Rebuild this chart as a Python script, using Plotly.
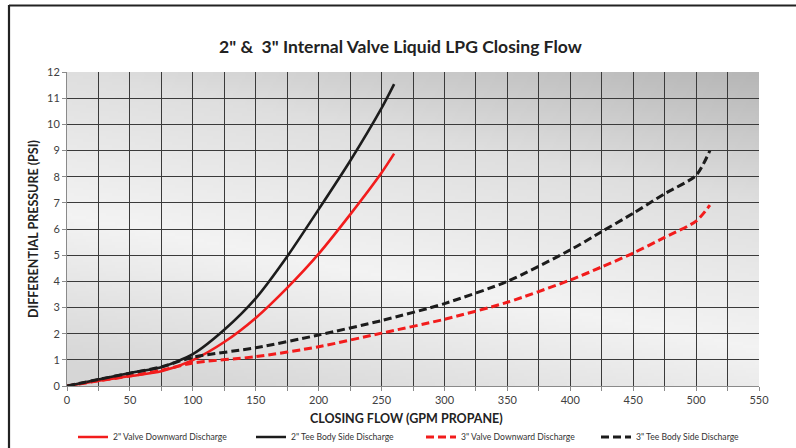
import base64
import struct
import zlib
import plotly.graph_objects as go

# ---------------- data ----------------
flow_2in = [0, 25, 50, 75, 100, 125, 150, 175, 200, 225, 250, 260]
valve_2in = [0, 0.2, 0.38, 0.56, 0.99, 1.68, 2.6, 3.75, 5.05, 6.55, 8.15, 8.88]
tee_2in = [0, 0.25, 0.5, 0.72, 1.22, 2.15, 3.35, 4.95, 6.75, 8.6, 10.62, 11.54]

flow_3in = [0, 25, 50, 75, 100, 150, 200, 250, 300, 350, 400, 425, 450, 475, 500, 511]
valve_3in = [0, 0.2, 0.38, 0.6, 0.88, 1.12, 1.5, 2.02, 2.55, 3.2, 4.05, 4.55, 5.08, 5.68, 6.3, 6.91]
tee_3in = [0, 0.25, 0.49, 0.73, 1.1, 1.46, 1.95, 2.5, 3.15, 4.0, 5.2, 5.9, 6.6, 7.35, 8.05, 9.0]

series_names = ['2" Valve Downward Discharge', '2" Tee Body Side Discharge',
                '3" Valve Downward Discharge', '3" Tee Body Side Discharge']

title_text = '2" &  3" Internal Valve Liquid LPG Closing Flow'
x_title = "CLOSING FLOW (GPM PROPANE)"
y_title = "DIFFERENTIAL PRESSURE (PSI)"

# ---------------- background gradient image ----------------
def make_png(w, h, pix):
    raw = b"".join(b"\x00" + bytes(row) for row in pix)

    def chunk(t, d):
        c = struct.pack(">I", len(d)) + t + d
        return c + struct.pack(">I", zlib.crc32(t + d) & 0xFFFFFFFF)

    return (b"\x89PNG\r\n\x1a\n"
            + chunk(b"IHDR", struct.pack(">IIBBBBB", w, h, 8, 2, 0, 0, 0))
            + chunk(b"IDAT", zlib.compress(raw, 9))
            + chunk(b"IEND", b""))


stops = [(0.0, 182), (0.35, 222), (0.75, 243), (1.15, 214)]


def grad(t):
    if t <= stops[0][0]:
        return stops[0][1]
    for (t0, c0), (t1, c1) in zip(stops, stops[1:]):
        if t <= t1:
            return c0 + (c1 - c0) * (t - t0) / (t1 - t0)
    return stops[-1][1]


W, H = 240, 110
rows = []
for j in range(H):
    yn = j / (H - 1)
    row = []
    for i in range(W):
        xn = i / (W - 1)
        t = 0.85 * yn + 0.36 * (1 - xn)
        g = int(round(grad(t)))
        row += [g, g, g]
    rows.append(row)
bg_uri = "data:image/png;base64," + base64.b64encode(make_png(W, H, rows)).decode()

# ---------------- figure ----------------
FONT = "Lato"
RED = "#f21c1c"
BLACK = "#1c1c1c"

fig = go.Figure()
specs = [
    (flow_2in, valve_2in, RED, "solid", 2.6, "legend"),
    (flow_2in, tee_2in, BLACK, "solid", 2.6, "legend2"),
    (flow_3in, valve_3in, RED, "8px,4px", 3.0, "legend3"),
    (flow_3in, tee_3in, BLACK, "8px,4px", 3.0, "legend4"),
]
for (xs, ys, col, dash, wdt, leg), name in zip(specs, series_names):
    fig.add_trace(go.Scatter(
        x=xs, y=ys, mode="lines", name=name, legend=leg,
        line=dict(color=col, width=wdt, dash=dash, shape="spline", smoothing=0.7),
        hoverinfo="skip",
    ))

L, R, T, B = 67, 37, 72, 62
PW, PH = 796 - L - R, 448 - T - B


def px_x(p):
    return (p - L) / PW


def px_y(p):
    return (448 - B - p) / PH


legend_common = dict(orientation="h", yanchor="middle", xanchor="left",
                     bgcolor="rgba(0,0,0,0)", borderwidth=0, itemwidth=30,
                     font=dict(family=FONT, size=8.6, color="#333333"))
leg_px = [73, 251, 421, 596]
fig.update_layout(
    legend=dict(x=px_x(leg_px[0]), y=px_y(437), **legend_common),
    legend2=dict(x=px_x(leg_px[1]), y=px_y(437), **legend_common),
    legend3=dict(x=px_x(leg_px[2]), y=px_y(437), **legend_common),
    legend4=dict(x=px_x(leg_px[3]), y=px_y(437), **legend_common),
)

fig.update_layout(
    width=796, height=448,
    margin=dict(l=L, r=R, t=T, b=B, pad=0, autoexpand=False),
    paper_bgcolor="white", plot_bgcolor="#e6e6e6",
    font=dict(family=FONT, color="#404040"),
    showlegend=True,
    title=dict(text="<b>" + title_text + "</b>", x=0.503, xref="container",
               y=1 - 47 / 448, yref="container", xanchor="center", yanchor="middle",
               font=dict(family=FONT, size=17.5, color="#222222")),
    xaxis=dict(range=[0, 550], dtick=50, tick0=0, showgrid=True,
               gridcolor="#3a3a3a", gridwidth=1.2,
               minor=dict(dtick=25, showgrid=True, gridcolor="#3a3a3a", gridwidth=1.2,
                          ticks="outside", ticklen=4, tickcolor="#8a8a8a"),
               ticks="outside", ticklen=4, tickcolor="#8a8a8a",
               showline=True, linecolor="#8a8a8a", linewidth=1, zeroline=False,
               automargin=False,
               tickfont=dict(family=FONT, size=11, color="#404040")),
    yaxis=dict(range=[0, 12], dtick=1, tick0=0, showgrid=True,
               gridcolor="#3a3a3a", gridwidth=1.2,
               ticks="outside", ticklen=4, tickcolor="#8a8a8a",
               showline=True, linecolor="#8a8a8a", linewidth=1, zeroline=False,
               automargin=False,
               tickfont=dict(family=FONT, size=11, color="#404040")),
)

fig.add_layout_image(dict(source=bg_uri, xref="x", yref="y", x=0, y=12,
                          sizex=550, sizey=12, sizing="stretch", layer="below"))

# bevel edges of the plot area
bevel = [
    dict(xsizemode="pixel", xanchor=0, x0=0, x1=6, y0=0, y1=12, fillcolor="rgba(150,150,150,0.45)"),
    dict(ysizemode="pixel", yanchor=0, y0=0, y1=6, x0=0, x1=550, fillcolor="rgba(110,110,110,0.5)"),
    dict(xsizemode="pixel", xanchor=550, x0=-7, x1=-3, y0=0, y1=12, fillcolor="rgba(120,120,120,0.55)"),
    dict(xsizemode="pixel", xanchor=550, x0=-3, x1=0, y0=0, y1=12, fillcolor="#2a2a2a"),
    dict(ysizemode="pixel", yanchor=12, y0=-5, y1=-2, x0=0, x1=550, fillcolor="rgba(255,255,255,0.9)"),
    dict(ysizemode="pixel", yanchor=12, y0=-2, y1=0, x0=0, x1=550, fillcolor="#2a2a2a"),
]
for b in bevel:
    fig.add_shape(type="rect", xref="x", yref="y", line_width=0, layer="below", **b)

# outer chart frame
fig.add_shape(type="line", xref="paper", yref="paper", x0=px_x(9), x1=px_x(9),
              y0=px_y(5), y1=px_y(460), line=dict(color="#222222", width=2.2))
fig.add_shape(type="line", xref="paper", yref="paper", x0=px_x(9), x1=px_x(800),
              y0=px_y(5.5), y1=px_y(5.5), line=dict(color="#222222", width=2.2))

# axis titles
fig.add_annotation(text="<b>" + y_title + "</b>", xref="paper", yref="paper",
                   x=px_x(33), y=px_y(229), textangle=-90, showarrow=False,
                   xanchor="center", yanchor="middle",
                   font=dict(family=FONT, size=12.5, color="#222222"))
fig.add_annotation(text="<b>" + x_title + "</b>", xref="paper", yref="paper",
                   x=px_x(406), y=px_y(418), showarrow=False,
                   xanchor="center", yanchor="middle",
                   font=dict(family=FONT, size=12.5, color="#222222"))

fig.write_html("out.html", config={"displayModeBar": False},
               post_script="document.body.style.margin='0px';document.body.style.overflow='hidden';")
